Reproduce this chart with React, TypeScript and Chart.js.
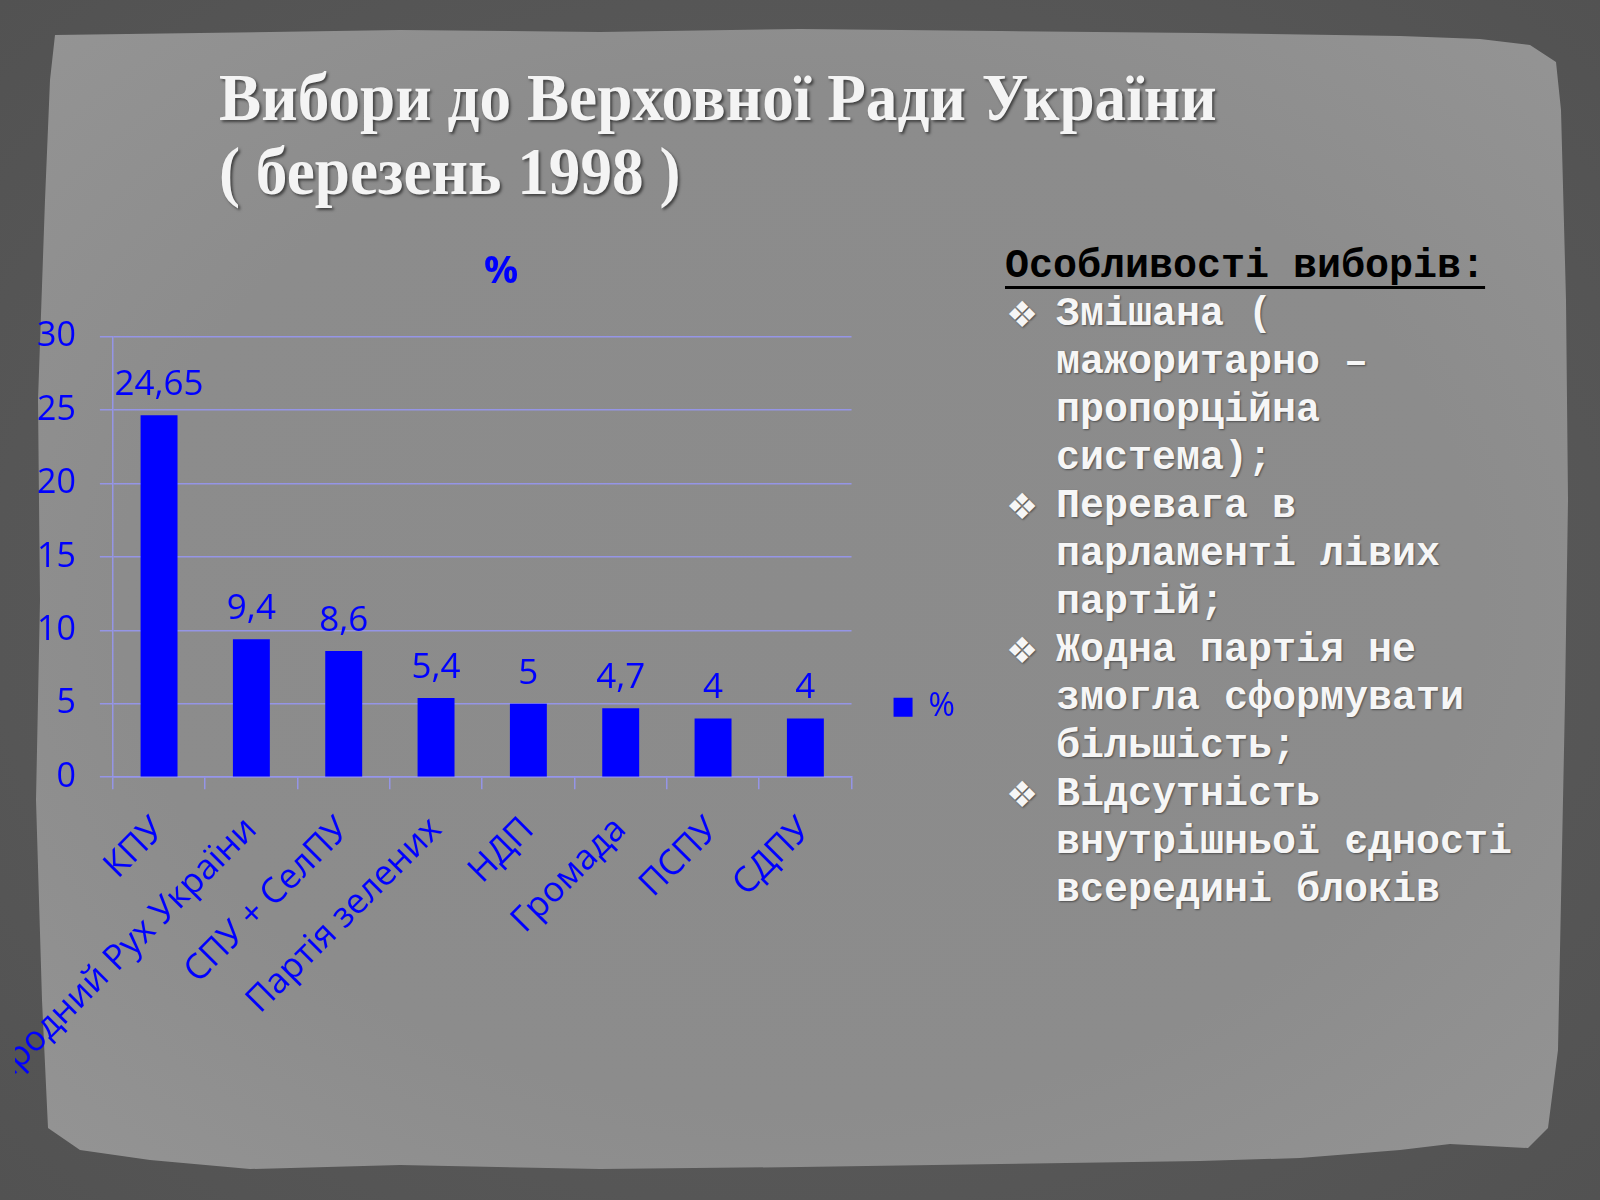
import React, { useEffect, useRef } from "react";
import { Chart, registerables } from "chart.js";

Chart.register(...registerables);

// ---------- data ----------
const categories = [
  "КПУ",
  "Народний Рух України",
  "СПУ + СелПУ",
  "Партія зелених",
  "НДП",
  "Громада",
  "ПСПУ",
  "СДПУ",
];
const values = [24.65, 9.4, 8.6, 5.4, 5, 4.7, 4, 4];
const seriesName = "%";
const yMin = 0;
const yMax = 30;
const yStep = 5;

const titleLines = ["Вибори до Верховної Ради України", "( березень 1998 )"];
const notesHeading = "Особливості виборів:";
const notes = [
  ["Змішана (", "мажоритарно –", "пропорційна", "система);"],
  ["Перевага в", "парламенті лівих", "партій;"],
  ["Жодна партія не", "змогла сформувати", "більшість;"],
  ["Відсутність", "внутрішньої єдності", "всередині блоків"],
];

// ---------- styles ----------
const BLUE = "#0000ff";
const GRID = "rgba(150,150,235,0.95)";
const FONT = "'Open Sans', 'Noto Sans', sans-serif";
const Y_TICK_PAD = 24;

const formatValue = (v: number) => String(v).replace(".", ",");

const valueLabels = {
  id: "valueLabels",
  afterLayout(chart: any) {
    // lift the legend item slightly so it sits where the original one does
    const lg = chart.legend;
    if (lg) {
      lg.top -= 12;
      lg.bottom -= 12;
    }
  },
  afterDatasetsDraw(chart: any) {
    const ctx = chart.ctx;
    const meta = chart.getDatasetMeta(0);
    const data = chart.data.datasets[0].data as number[];
    ctx.save();
    ctx.font = `35px ${FONT}`;
    ctx.fillStyle = BLUE;
    ctx.textAlign = "center";
    ctx.textBaseline = "alphabetic";
    meta.data.forEach((bar: any, i: number) => {
      ctx.fillText(formatValue(data[i]), bar.x, bar.y - 20);
    });
    ctx.restore();
  },
};

function BarChart() {
  const ref = useRef<HTMLCanvasElement | null>(null);
  useEffect(() => {
    if (!ref.current) return;
    const chart = new Chart(ref.current, {
      type: "bar",
      data: {
        labels: categories,
        datasets: [
          {
            label: seriesName,
            data: values,
            backgroundColor: BLUE,
            borderWidth: 0,
            barPercentage: 0.4,
            categoryPercentage: 1,
          },
        ],
      },
      plugins: [valueLabels],
      options: {
        responsive: false,
        animation: false,
        devicePixelRatio: 1,
        layout: { padding: { left: 22, right: 10, top: 0, bottom: 40 } },
        plugins: {
          title: {
            display: true,
            text: seriesName,
            color: BLUE,
            font: { family: FONT, size: 38, weight: "bold" },
            padding: { top: 19, bottom: 42 },
          },
          legend: {
            display: true,
            position: "right",
            align: "end",
            fullSize: false,
            labels: {
              color: BLUE,
              font: { family: FONT, size: 32 },
              boxWidth: 19,
              boxHeight: 19,
              padding: 42,
            },
          },
          tooltip: { enabled: false },
        },
        scales: {
          x: {
            grid: {
              display: true,
              drawOnChartArea: false,
              drawTicks: true,
              tickLength: 12,
              color: GRID,
              lineWidth: 1.5,
              offset: true,
            },
            border: { display: true, color: GRID, width: 1.5 },
            ticks: {
              color: BLUE,
              font: { family: FONT, size: 35 },
              maxRotation: 45,
              minRotation: 45,
              autoSkip: false,
              padding: 20,
            },
          },
          y: {
            min: yMin,
            max: yMax,
            afterFit: (scale: any) => {
              scale.width -= Y_TICK_PAD;
            },
            grid: { color: GRID, tickLength: 13, lineWidth: 1.5 },
            border: { display: true, color: GRID, width: 1.5 },
            ticks: {
              stepSize: yStep,
              color: BLUE,
              font: { family: FONT, size: 34 },
              padding: Y_TICK_PAD,
            },
          },
        },
      },
    });
    return () => chart.destroy();
  }, []);
  return (
    <canvas
      ref={ref}
      width={960}
      height={940}
      style={{ position: "absolute", left: 15, top: 230, width: 960, height: 940 }}
    />
  );
}

const panelClip =
  "polygon(55px 35px, 200px 33px, 400px 30px, 600px 32px, 800px 29px, 1000px 31px, 1200px 33px, 1400px 36px, 1480px 39px, 1530px 45px, 1556px 62px, 1561px 110px, 1566px 300px, 1568px 500px, 1565px 700px, 1561px 900px, 1558px 1050px, 1548px 1128px, 1528px 1148px, 1450px 1144px, 1400px 1150px, 1300px 1158px, 1200px 1161px, 1000px 1164px, 800px 1167px, 600px 1169px, 400px 1165px, 250px 1169px, 150px 1160px, 80px 1150px, 48px 1128px, 42px 1000px, 36px 800px, 40px 600px, 38px 400px, 45px 200px, 50px 80px)";

export default function App() {
  const monoText: React.CSSProperties = {
    position: "absolute",
    fontFamily: "'Liberation Mono', 'Courier New', monospace",
    fontWeight: "bold",
    fontSize: 40,
    lineHeight: "48px",
    whiteSpace: "pre",
    color: "#f6f6f6",
    textShadow: "1px 1px 2px rgba(0,0,0,0.45)",
  };
  const lines: { text: string; bullet: boolean }[] = [];
  notes.forEach((group) =>
    group.forEach((t, i) => lines.push({ text: t, bullet: i === 0 }))
  );
  return (
    <div
      style={{
        position: "absolute",
        left: 0,
        top: 0,
        width: 1600,
        height: 1200,
        overflow: "hidden",
        background: "radial-gradient(ellipse at center, #606060 0%, #525252 100%)",
      }}
    >
      <div
        style={{
          position: "absolute",
          left: 0,
          top: 0,
          width: 1600,
          height: 1200,
          clipPath: panelClip,
          background:
            "radial-gradient(ellipse at 50% 50%, #8b8b8b 0%, #8c8c8c 60%, #959595 100%)",
        }}
      />
      {titleLines.map((t, i) => (
        <div
          key={i}
          style={{
            position: "absolute",
            left: 219,
            top: 60 + i * 74,
            fontFamily: "'Liberation Serif', serif",
            fontWeight: "bold",
            fontSize: 67,
            lineHeight: "74px",
            whiteSpace: "pre",
            color: "#f4f4f4",
            transform: "scaleX(0.944)",
            transformOrigin: "0 0",
            textShadow: "2px 2px 3px rgba(0,0,0,0.55)",
          }}
        >
          {t}
        </div>
      ))}
      <BarChart />
      <div
        style={{
          ...monoText,
          left: 1005,
          top: 243,
          color: "#000000",
          textShadow: "none",
          textDecoration: "underline",
          textDecorationThickness: "3px",
          textUnderlineOffset: "9px",
        }}
      >
        {notesHeading}
      </div>
      {lines.map((l, k) => (
        <React.Fragment key={k}>
          {l.bullet && (
            <div
              style={{
                ...monoText,
                left: 1006,
                top: 243 + 48 * (k + 1),
                fontFamily: "'DejaVu Sans', sans-serif",
                fontSize: 36,
                fontWeight: "normal",
              }}
            >
              ❖
            </div>
          )}
          <div style={{ ...monoText, left: 1056, top: 243 + 48 * (k + 1) }}>{l.text}</div>
        </React.Fragment>
      ))}
    </div>
  );
}
